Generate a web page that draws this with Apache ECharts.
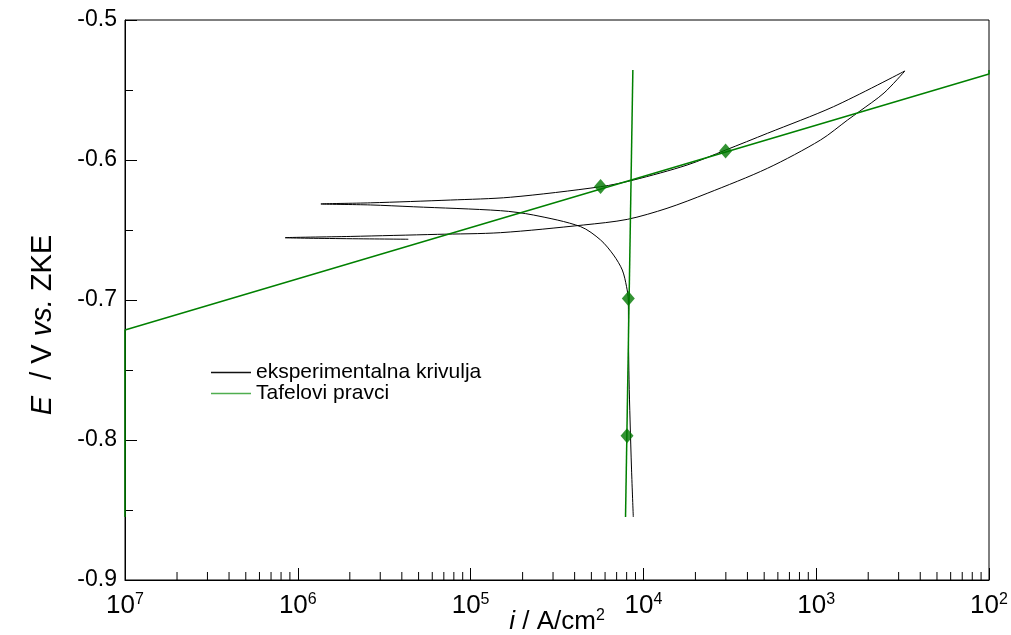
<!DOCTYPE html>
<html>
<head>
<meta charset="utf-8">
<script src="https://cdn.jsdelivr.net/npm/echarts@6/dist/echarts.min.js"></script>
<style>
html,body{margin:0;padding:0;background:#fff;}
#chart{width:1011px;height:635px;}
</style>
</head>
<body>
<div id="chart"></div>
<script>
// Experimental cyclic polarization curve: [i (A/cm2), E (V vs. ZKE)]
const expCurrent = [
  8.74e-5, 8.54e-5, 8.37e-5, 8.26e-5, 8.20e-5, 8.18e-5, 7.99e-5, 7.55e-5, 6.72e-5, 5.65e-5,
  4.33e-5, 2.31e-5, 1.49e-5, 4.66e-6, 2.63e-6, 1.36e-6,
  2.63e-6, 7.64e-6, 1.70e-5, 5.65e-5, 8.77e-5, 1.79e-4, 2.99e-4, 5.23e-4, 1.26e-3, 3.26e-3,
  2.47e-3, 1.77e-3, 1.52e-3, 1.06e-3, 5.23e-4, 2.34e-4, 1.37e-4, 8.07e-5, 4.52e-5, 1.49e-5,
  6.43e-6, 2.01e-6, 8.45e-7, 4.36e-6
];
const expPotential = [
  -0.855, -0.8214, -0.7857, -0.757, -0.7286, -0.700, -0.6905, -0.6786, -0.6679, -0.6571,
  -0.6476, -0.6393, -0.6362, -0.6334, -0.6321, -0.6314,
  -0.6306, -0.6286, -0.6266, -0.6191, -0.6143, -0.6036, -0.5929, -0.5809, -0.5619, -0.5364,
  -0.5521, -0.5655, -0.5714, -0.5857, -0.6059, -0.6238, -0.6345, -0.6424, -0.6464, -0.6519,
  -0.6531, -0.6546, -0.6555, -0.6566
];
// Anodic Tafel line (as drawn, clamped to the axis edges)
const anodicTafelCurrent = [1e-7, 1e-7, 1e-2, 1e-2];
const anodicTafelPotential = [-0.855, -0.7214, -0.5386, -0.5357];
// Cathodic Tafel line
const cathodicTafelCurrent = [7.88e-5, 8.69e-5];
const cathodicTafelPotential = [-0.855, -0.5357];
// Tafel points (diamonds)
const tafelPointCurrent = [5.65e-5, 2.99e-4, 8.18e-5, 8.04e-5];
const tafelPointPotential = [-0.619, -0.5936, -0.699, -0.797];
// Axis ticks
const xMin = 1e-7, xMax = 1e-2;
const yMin = -0.9, yMax = -0.5, yStep = 0.1;
const xMinorTicks = [];
for (let e = -7; e < -2; e++) for (let k = 2; k <= 9; k++) xMinorTicks.push(k * Math.pow(10, e));

const zip = (a, b) => a.map((v, i) => [v, b[i]]);
const FONT = 'Liberation Sans, Arial, sans-serif';
const NARROW = 'Liberation Sans Narrow, Liberation Sans, Arial, sans-serif';

const chart = echarts.init(document.getElementById('chart'), null, {renderer: 'canvas'});
chart.setOption({
  animation: false,
  backgroundColor: '#fff',
  grid: {left: 125, right: 22, top: 20, bottom: 55, containLabel: false, outerBoundsMode: 'none',
         show: true, borderColor: '#000', borderWidth: 1, backgroundColor: 'transparent'},
  legend: {
    orient: 'vertical', left: 206, top: 357, itemWidth: 40, itemHeight: 1.6, itemGap: 0,
    icon: 'rect',
    textStyle: {fontFamily: FONT, fontSize: 21, color: '#000', lineHeight: 20},
    data: [
      {name: 'eksperimentalna krivulja', itemStyle: {color: '#111'}},
      {name: 'Tafelovi pravci', itemStyle: {color: '#4fae4f'}}
    ]
  },
  xAxis: {
    type: 'log', logBase: 10, min: xMin, max: xMax,
    axisLine: {show: true, lineStyle: {color: '#000', width: 1}},
    axisTick: {show: true, inside: true, length: 12, lineStyle: {color: '#000'}},
    splitLine: {show: false},
    axisLabel: {
      margin: 12, showMinLabel: true, showMaxLabel: true,
      formatter: v => '{a|10}{b|' + Math.round(-Math.log10(v)) + '}',
      rich: {
        a: {fontFamily: NARROW, fontSize: 26, color: '#000', lineHeight: 28},
        b: {fontFamily: NARROW, fontSize: 16, color: '#000', verticalAlign: 'top', lineHeight: 16}
      }
    },
    name: '{it|i}{n| / A/cm}{s|2}', nameLocation: 'middle', nameGap: 28, nameMoveOverlap: false,
    nameTextStyle: {
      rich: {
        it: {fontFamily: FONT, fontSize: 26, fontStyle: 'italic', color: '#000', lineHeight: 28},
        n: {fontFamily: FONT, fontSize: 26, color: '#000', lineHeight: 28},
        s: {fontFamily: FONT, fontSize: 16, color: '#000', verticalAlign: 'top', lineHeight: 16}
      }
    }
  },
  yAxis: {
    type: 'value', min: yMin, max: yMax, interval: yStep,
    axisLine: {show: true, lineStyle: {color: '#000', width: 1}},
    axisTick: {show: true, inside: true, length: 12, lineStyle: {color: '#000'}},
    minorTick: {show: true, splitNumber: 2, length: 8, lineStyle: {color: '#000'}},
    splitLine: {show: false},
    axisLabel: {margin: 8, fontFamily: FONT, fontSize: 23, color: '#000', formatter: v => v.toFixed(1)},
    name: '{it|E}{n|  / V }{it|vs.}{n| ZKE}', nameLocation: 'middle', nameGap: 68, nameRotate: 90,
    nameMoveOverlap: false,
    nameTextStyle: {
      padding: [0, 50, 0, 0],
      rich: {
        it: {fontFamily: FONT, fontSize: 29, fontStyle: 'italic', color: '#000'},
        n: {fontFamily: FONT, fontSize: 29, color: '#000'}
      }
    }
  },
  series: [
    {
      name: 'eksperimentalna krivulja', type: 'line', symbol: 'none', smooth: 0.3,
      lineStyle: {color: '#000', width: 1}, itemStyle: {color: '#111'},
      data: zip(expCurrent, expPotential), z: 3
    },
    {
      name: 'Tafelovi pravci', type: 'line', symbol: 'none', clip: false,
      lineStyle: {color: '#008000', width: 1.5}, itemStyle: {color: '#4fae4f'},
      data: zip(anodicTafelCurrent, anodicTafelPotential), z: 4
    },
    {
      name: 'Tafelovi pravci', type: 'line', symbol: 'none',
      lineStyle: {color: '#008000', width: 1.5}, itemStyle: {color: '#4fae4f'},
      data: zip(cathodicTafelCurrent, cathodicTafelPotential), z: 4
    },
    {
      name: 'Tafel points', type: 'scatter', symbol: 'diamond', symbolSize: [13, 15],
      itemStyle: {color: '#007800'}, data: zip(tafelPointCurrent, tafelPointPotential), z: 5
    },
    {
      name: 'minorTicks', type: 'custom', silent: true, z: 6,
      data: xMinorTicks.map(v => [v, yMin]),
      renderItem: (params, api) => {
        const p = api.coord([api.value(0), api.value(1)]);
        return {type: 'line', shape: {x1: p[0], y1: p[1], x2: p[0], y2: p[1] - 8}, style: {stroke: '#000', lineWidth: 1}};
      }
    }
  ]
});
</script>
</body>
</html>
